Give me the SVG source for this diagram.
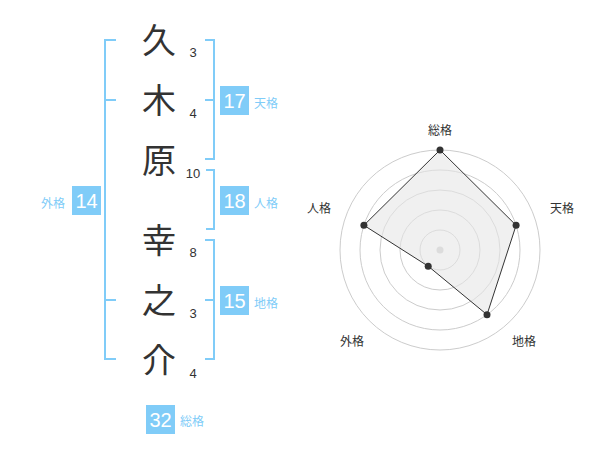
<svg xmlns="http://www.w3.org/2000/svg" width="600" height="470" viewBox="0 0 600 470">
<style>
.kanji{font-family:"Noto Sans CJK JP","Noto Sans",sans-serif;font-size:34px;fill:#333;text-anchor:middle}
.num{font-family:"Liberation Sans",Arial,sans-serif;font-size:13px;fill:#333;text-anchor:middle}
.box{fill:#80ccf8}
.boxt{font-family:"Liberation Sans",Arial,sans-serif;font-size:20px;fill:#fff;text-anchor:middle}
.lbl{font-family:"Noto Sans CJK JP","Noto Sans",sans-serif;font-size:12px;fill:#80ccf8;text-anchor:middle}
.br{fill:none;stroke:#80ccf8;stroke-width:2}
.ring{fill:none;stroke:#ccc;stroke-width:1}
.rl{font-family:"Noto Sans CJK JP","Noto Sans",sans-serif;font-size:12px;fill:#333;text-anchor:middle}
.pt{fill:#333}
</style>
<g id="connectors">
<path class="br" d="M116,40 H105 V359 H116 M105,100 H116 M105,300 H116"/>
<path class="br" d="M205,40 H214 V159 H205 M205,100 H214"/>
<path class="br" d="M206,170 H214 V229 H206"/>
<path class="br" d="M205,240 H214 V359 H205 M205,300 H214"/>
</g>
<g id="chars">
<text class="kanji" x="159" y="53">久</text>
<text class="kanji" x="159" y="113">木</text>
<text class="kanji" x="159" y="173">原</text>
<text class="kanji" x="159" y="253">幸</text>
<text class="kanji" x="159" y="313">之</text>
<text class="kanji" x="159" y="373">介</text>
<text class="num" x="193" y="57">3</text>
<text class="num" x="193" y="118">4</text>
<text class="num" x="193" y="178">10</text>
<text class="num" x="193" y="257">8</text>
<text class="num" x="193" y="318">3</text>
<text class="num" x="193" y="378">4</text>
</g>
<g id="tenkaku"><rect class="box" x="220" y="86" width="29" height="29"/><text class="boxt" x="234.5" y="107.5">17</text><text class="lbl" x="266" y="108">天格</text></g>
<g id="jinkaku"><rect class="box" x="220" y="186" width="29" height="29"/><text class="boxt" x="234.5" y="207.5">18</text><text class="lbl" x="266" y="208">人格</text></g>
<g id="chikaku"><rect class="box" x="220" y="286" width="29" height="29"/><text class="boxt" x="234.5" y="307.5">15</text><text class="lbl" x="266" y="308">地格</text></g>
<g id="gaikaku"><rect class="box" x="72" y="186" width="29" height="29"/><text class="boxt" x="86.5" y="207.5">14</text><text class="lbl" x="53" y="208">外格</text></g>
<g id="soukaku"><rect class="box" x="146" y="405" width="29" height="29"/><text class="boxt" x="160.5" y="426.5">32</text><text class="lbl" x="192" y="426">総格</text></g>
<g id="radar">
<circle class="ring" cx="440" cy="250" r="100"/>
<circle class="ring" cx="440" cy="250" r="80"/>
<circle class="ring" cx="440" cy="250" r="60"/>
<circle class="ring" cx="440" cy="250" r="40"/>
<circle class="ring" cx="440" cy="250" r="20"/>
<circle cx="440" cy="250" r="3.5" fill="#ccc"/>
<polygon points="440,150 516.1,225.3 487,314.7 428.2,266.2 363.9,225.3" fill="#e6e6e6" fill-opacity="0.6" stroke="#333" stroke-width="1"/>
<circle class="pt" cx="440" cy="150" r="3.5"/>
<circle class="pt" cx="516.1" cy="225.3" r="3.5"/>
<circle class="pt" cx="487" cy="314.7" r="3.5"/>
<circle class="pt" cx="428.2" cy="266.2" r="3.5"/>
<circle class="pt" cx="363.9" cy="225.3" r="3.5"/>
<text class="rl" x="440" y="135">総格</text>
<text class="rl" x="562" y="213">天格</text>
<text class="rl" x="524" y="346">地格</text>
<text class="rl" x="352" y="346">外格</text>
<text class="rl" x="319" y="213">人格</text>
</g>
</svg>
